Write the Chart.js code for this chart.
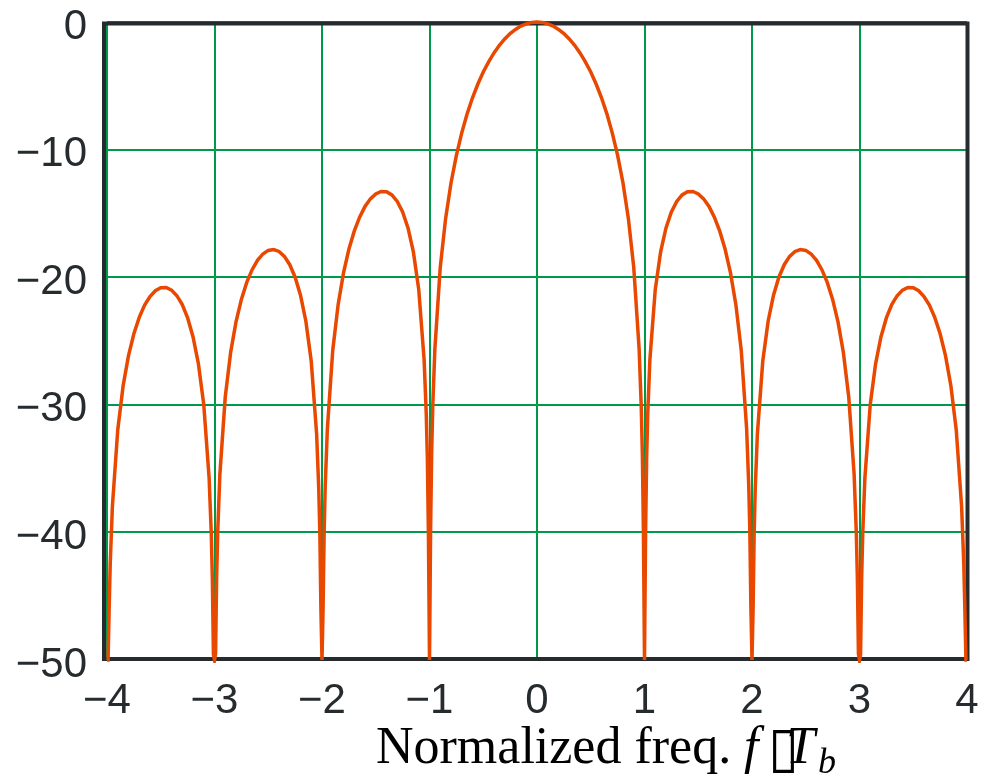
<!DOCTYPE html>
<html>
<head>
<meta charset="utf-8">
<script src="https://cdn.jsdelivr.net/npm/chart.js@4.4.1/dist/chart.umd.min.js"></script>
<style>
  html, body { margin: 0; padding: 0; background: #fff; }
</style>
</head>
<body>
<canvas id="chart" width="990" height="777"></canvas>
<script>
// normalized frequency f*Tb, listed lobe by lobe from -4 to 4
const freqs = [
  -4.00, -3.99, -3.98, -3.97, -3.95, -3.90, -3.85, -3.80, -3.75, -3.70, -3.65, -3.60, -3.55,
  -3.50, -3.45, -3.40, -3.35, -3.30, -3.25, -3.20, -3.15, -3.10, -3.05, -3.03, -3.02, -3.01,
  -3.00, -2.99, -2.98, -2.97, -2.95, -2.90, -2.85, -2.80, -2.75, -2.70, -2.65, -2.60, -2.55,
  -2.50, -2.45, -2.40, -2.35, -2.30, -2.25, -2.20, -2.15, -2.10, -2.05, -2.03, -2.02, -2.01,
  -2.00, -1.99, -1.98, -1.97, -1.95, -1.90, -1.85, -1.80, -1.75, -1.70, -1.65, -1.60, -1.55,
  -1.50, -1.45, -1.40, -1.35, -1.30, -1.25, -1.20, -1.15, -1.10, -1.05, -1.03, -1.02, -1.01,
  -1.00, -0.99, -0.98, -0.97, -0.95, -0.90, -0.85, -0.80, -0.75, -0.70, -0.65, -0.60, -0.55,
  -0.50, -0.45, -0.40, -0.35, -0.30, -0.25, -0.20, -0.15, -0.10, -0.05,
  0.00,
  0.05, 0.10, 0.15, 0.20, 0.25, 0.30, 0.35, 0.40, 0.45, 0.50, 0.55, 0.60, 0.65,
  0.70, 0.75, 0.80, 0.85, 0.90, 0.95, 0.97, 0.98, 0.99, 1.00,
  1.01, 1.02, 1.03, 1.05, 1.10, 1.15, 1.20, 1.25, 1.30, 1.35, 1.40, 1.45, 1.50,
  1.55, 1.60, 1.65, 1.70, 1.75, 1.80, 1.85, 1.90, 1.95, 1.97, 1.98, 1.99, 2.00,
  2.01, 2.02, 2.03, 2.05, 2.10, 2.15, 2.20, 2.25, 2.30, 2.35, 2.40, 2.45, 2.50,
  2.55, 2.60, 2.65, 2.70, 2.75, 2.80, 2.85, 2.90, 2.95, 2.97, 2.98, 2.99, 3.00,
  3.01, 3.02, 3.03, 3.05, 3.10, 3.15, 3.20, 3.25, 3.30, 3.35, 3.40, 3.45, 3.50,
  3.55, 3.60, 3.65, 3.70, 3.75, 3.80, 3.85, 3.90, 3.95, 3.97, 3.98, 3.99, 4.00
];

// spectrum level in dB, same order as freqs
const levels = [
  -50, -50, -45.98, -42.45, -37.99, -31.97, -28.51, -26.15, -24.43, -23.15, -22.19, -21.51, -21.06,
  -20.82, -20.81, -21.01, -21.45, -22.15, -23.19, -24.66, -26.77, -29.97, -35.74, -40.10, -43.59, -49.57,
  -50, -49.51, -43.47, -39.93, -35.45, -29.39, -25.90, -23.50, -21.74, -20.41, -19.41, -18.68, -18.18,
  -17.90, -17.83, -17.98, -18.37, -19.02, -20.00, -21.41, -23.45, -26.59, -32.29, -36.62, -40.09, -46.07,
  -50, -45.98, -39.92, -36.36, -31.86, -25.72, -22.15, -19.66, -17.81, -16.39, -15.30, -14.46, -13.86,
  -13.47, -13.28, -13.30, -13.55, -14.06, -14.89, -16.14, -18.02, -20.97, -26.48, -30.73, -34.16, -40.09,
  -50, -39.91, -33.81, -30.21, -25.61, -19.23, -15.39, -12.62, -10.45, -8.69, -7.20, -5.94, -4.86,
  -3.92, -3.12, -2.42, -1.83, -1.33, -0.91, -0.58, -0.32, -0.14, -0.03,
  0,
  -0.03, -0.14, -0.32, -0.58, -0.91, -1.33, -1.83, -2.42, -3.12, -3.92, -4.86, -5.94, -7.20,
  -8.69, -10.45, -12.62, -15.39, -19.23, -25.61, -30.21, -33.81, -39.91, -50,
  -40.09, -34.16, -30.73, -26.48, -20.97, -18.02, -16.14, -14.89, -14.06, -13.55, -13.30, -13.28, -13.47,
  -13.86, -14.46, -15.30, -16.39, -17.81, -19.66, -22.15, -25.72, -31.86, -36.36, -39.92, -45.98, -50,
  -46.07, -40.09, -36.62, -32.29, -26.59, -23.45, -21.41, -20.00, -19.02, -18.37, -17.98, -17.83, -17.90,
  -18.18, -18.68, -19.41, -20.41, -21.74, -23.50, -25.90, -29.39, -35.45, -39.93, -43.47, -49.51, -50,
  -49.57, -43.59, -40.10, -35.74, -29.97, -26.77, -24.66, -23.19, -22.15, -21.45, -21.01, -20.81, -20.82,
  -21.06, -21.51, -22.19, -23.15, -24.43, -26.15, -28.51, -31.97, -37.99, -42.45, -45.98, -50, -50
];

const xTicks = [-4, -3, -2, -1, 0, 1, 2, 3, 4];
const yTicks = [-50, -40, -30, -20, -10, 0];

const GREEN = '#00994a';
const ORANGE = '#e84800';
const INK = '#262b2e';
const tickFont = { family: '"Liberation Sans", Arial, sans-serif', size: 42 };

function fmt(v) {
    return v < 0 ? '\u2212' + Math.abs(v) : String(v);
}

// dark frame round the plot, drawn under the curve
const framePlugin = {
    id: 'frame',
    beforeDatasetsDraw(chart) {
        const { ctx, chartArea: a } = chart;
        ctx.save();
        ctx.strokeStyle = INK;
        ctx.lineWidth = 4;
        ctx.strokeRect(a.left - 3, a.top + 1.5, a.right - a.left + 3.5, a.bottom - a.top - 2.5);
        ctx.restore();
    }
};

// x axis title with italic f, T and subscript b
const titlePlugin = {
    id: 'xtitle',
    afterDraw(chart) {
        const ctx = chart.ctx;
        const serif = '"Liberation Serif", "Times New Roman", serif';
        const y = 763;
        ctx.save();
        ctx.fillStyle = '#000';
        ctx.textBaseline = 'alphabetic';
        ctx.textAlign = 'left';

        ctx.font = '52px ' + serif;
        ctx.fillText('Normalized freq.', 376, y);

        ctx.font = 'italic 52px ' + serif;
        ctx.fillText('f', 744, y);

        ctx.font = '56px "DejaVu Sans"';
        ctx.fillText('\u25AF', 768, y + 3);

        ctx.font = 'italic 52px ' + serif;
        ctx.fillText('T', 786, y);

        ctx.font = 'italic 36px ' + serif;
        ctx.fillText('b', 818, y + 10);
        ctx.restore();
    }
};

function fixWidth(w) {
    return s => { s.width = w; s.paddingTop = 0; s.paddingBottom = 0; };
}
function fixHeight(h) {
    return s => { s.height = h; s.paddingLeft = 0; s.paddingRight = 0; };
}

const points = freqs.map((f, i) => ({ x: f, y: levels[i] }));

new Chart(document.getElementById('chart'), {
    type: 'line',
    data: {
        datasets: [{
            data: points,
            borderColor: ORANGE,
            borderWidth: 3.5,
            pointRadius: 0,
            tension: 0,
            fill: false,
            clip: 3
        }]
    },
    options: {
        responsive: false,
        animation: false,
        layout: { padding: { top: 22, right: 23, left: 0, bottom: 0 } },
        plugins: { legend: { display: false }, tooltip: { enabled: false } },
        scales: {
            x: {
                type: 'linear',
                min: -4,
                max: 4,
                afterBuildTicks: s => { s.ticks = xTicks.map(v => ({ value: v })); },
                afterFit: fixHeight(117),
                grid: { color: GREEN, lineWidth: 2, drawTicks: false },
                border: { display: false },
                ticks: {
                    font: tickFont,
                    color: INK,
                    padding: 16,
                    maxRotation: 0,
                    autoSkip: false,
                    callback: v => fmt(v)
                }
            },
            y: {
                min: -50,
                max: 0,
                afterBuildTicks: s => { s.ticks = yTicks.map(v => ({ value: v })); },
                afterFit: fixWidth(107),
                grid: { color: GREEN, lineWidth: 2, drawTicks: false },
                border: { display: false },
                ticks: {
                    font: tickFont,
                    color: INK,
                    padding: 20,
                    labelOffset: 5,
                    callback: v => fmt(v)
                }
            }
        }
    },
    plugins: [framePlugin, titlePlugin]
});
</script>
</body>
</html>
